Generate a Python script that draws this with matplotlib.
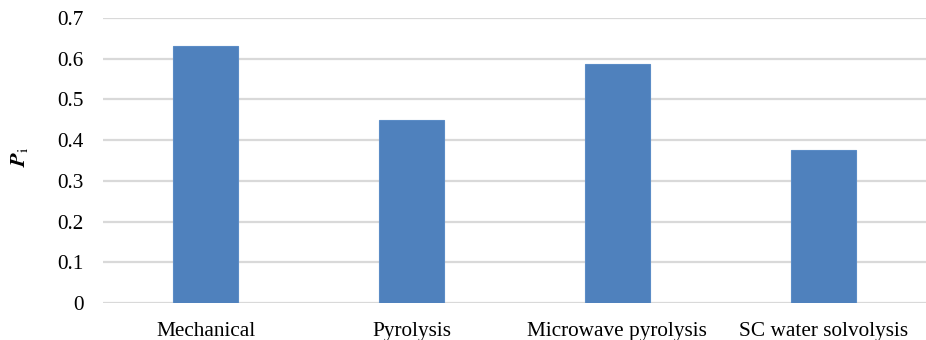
import matplotlib
matplotlib.use("Agg")
import matplotlib.pyplot as plt

methods = ["Mechanical", "Pyrolysis", "Microwave pyrolysis", "SC water solvolysis"]
p_values = [0.631, 0.450, 0.586, 0.376]
y_ticks = [0, 0.1, 0.2, 0.3, 0.4, 0.5, 0.6, 0.7]
y_tick_labels = ["0", "0.1", "0.2", "0.3", "0.4", "0.5", "0.6", "0.7"]

plt.rcParams["font.family"] = ["Liberation Serif", "DejaVu Serif"]

fig = plt.figure(figsize=(9.26, 3.4), dpi=100)
ax = fig.add_axes([103 / 926, 1 - 303 / 340, 823 / 926, 285 / 340])

x = range(len(methods))
ax.bar(x, p_values, width=0.316, color="#4F81BD", edgecolor="#5B8CC6",
       linewidth=0.8, zorder=3)

ax.set_xlim(-0.5, len(methods) - 0.5)
ax.set_ylim(0, 0.7)
ax.set_yticks(y_ticks)
ax.set_yticklabels(y_tick_labels, fontsize=15.3)
ax.set_xticks(list(x))
ax.set_xticklabels(methods, fontsize=15.3)

ax.grid(axis="y", color="#D9D9D9", linewidth=1.6, zorder=0)
ax.set_axisbelow(True)
for side in ["top", "right", "left", "bottom"]:
    ax.spines[side].set_visible(False)
ax.tick_params(axis="both", length=0)
ax.tick_params(axis="y", pad=14)
ax.tick_params(axis="x", pad=14)

# bold italic P with upright subscript i
fig.text(19 / 926, 1 - 157 / 340, r"$\mathbfit{P}_\mathrm{i}$", rotation=90,
         ha="center", va="center", fontsize=16,
         math_fontfamily="stix")

fig.savefig("out.png", dpi=100)
